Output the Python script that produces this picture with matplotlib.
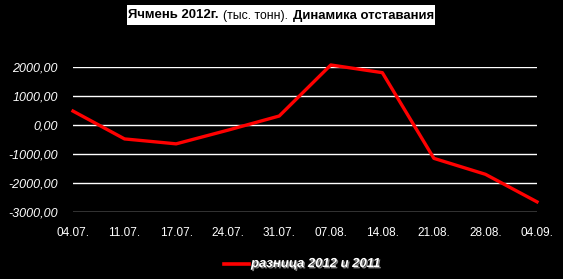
import matplotlib
matplotlib.use('Agg')
import matplotlib.pyplot as plt
import matplotlib.patheffects as pe
from matplotlib.patches import Rectangle

dates = ['04.07.', '11.07.', '17.07.', '24.07.', '31.07.', '07.08.', '14.08.', '21.08.', '28.08.', '04.09.']
diff = [480, -480, -650, -180, 310, 2070, 1805, -1150, -1700, -2650]
yticks = [-3000, -2000, -1000, 0, 1000, 2000]
series_name = 'разница 2012 и 2011'

plt.rcParams['font.family'] = ['Liberation Sans', 'DejaVu Sans']

W, H = 563, 279
fig = plt.figure(figsize=(W / 100, H / 100), dpi=100, facecolor='black')
ax = fig.add_axes([73 / W, 1 - 212 / H, (537 - 73) / W, (212 - 67) / H])
ax.set_facecolor('black')

x = range(len(dates))
ax.plot(x, diff, color='red', lw=2.4, clip_on=False, zorder=3)
ax.set_xlim(0, len(dates) - 1)
ax.set_ylim(-3000, 2000)
ax.set_yticks(yticks)
ax.set_yticklabels([f'{v:.2f}'.replace('.', ',') for v in yticks],
                   fontstyle='italic', fontsize=9, color='white')
ax.set_xticks(list(x))
ax.set_xticklabels(dates, fontsize=8.5, color='white')
ax.tick_params(length=0)
ax.tick_params(axis='y', pad=11)
ax.tick_params(axis='x', pad=11)
ax.grid(axis='y', color='white', lw=1)
for s in ax.spines.values():
    s.set_visible(False)

# title: white box, bold / normal / bold pieces fitted to their widths
fig.patches.append(Rectangle((127 / W, 1 - 25 / H), (435 - 127) / W, 20 / H,
                             transform=fig.transFigure, facecolor='white',
                             edgecolor='none'))
r = fig.canvas.get_renderer()
parts = [('Ячмень 2012г.', 'bold', 128, 91), ('(тыс. тонн).', 'normal', 223, 65),
         ('Динамика отставания', 'bold', 293, 141)]
for txt, w, x0, width in parts:
    t = fig.text(x0 / W, 1 - 15.5 / H, txt, fontsize=10, fontweight=w,
                 color='black', va='center', ha='left')
    bb = t.get_window_extent(renderer=r)
    t.set_fontsize(10 * width / bb.width)

# legend
fig.add_artist(plt.Line2D([224 / W, 249 / W], [1 - 264 / H] * 2,
                          color='red', lw=2.6, transform=fig.transFigure))
fig.text(251 / W, 1 - 264 / H, series_name, fontsize=9.4, fontweight='bold',
         fontstyle='italic', color='white', va='center', ha='left',
         path_effects=[pe.withSimplePatchShadow(offset=(1, -1),
                                                shadow_rgbFace='gray', alpha=1)])

fig.savefig('out.png', dpi=100, facecolor='black')
